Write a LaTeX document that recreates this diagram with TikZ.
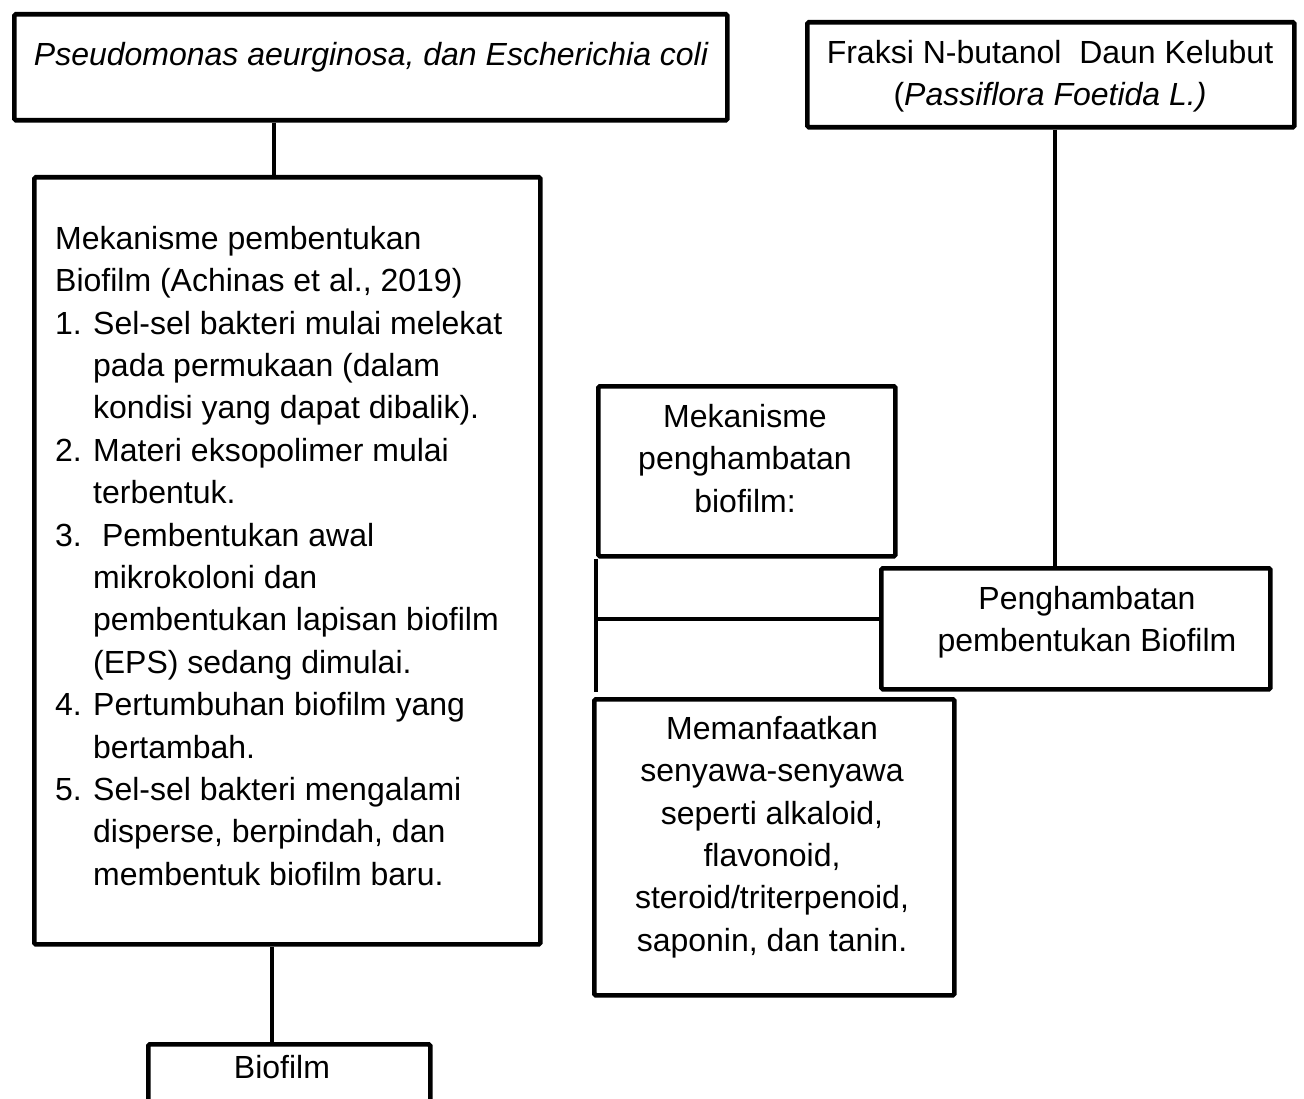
\documentclass[tikz,border=0pt]{standalone}
\usepackage{fontspec}
\setmainfont{Liberation Sans}
\newcommand{\bodyfont}{\fontsize{32}{42.4}\selectfont}
\newcommand{\itemno}[1]{\makebox[38pt][l]{#1}}
\newcommand{\itemgap}{\hspace*{38pt}}

\begin{document}
\begin{tikzpicture}[x=1pt,y=1pt,yscale=-1,xscale=1,
  box/.style={draw, line width=4.6pt, rounded corners=1.5pt, inner sep=0pt, anchor=north west},
  txt/.style={inner sep=0pt, font=\bodyfont, anchor=north, align=center},
  link/.style={line width=4.6pt}]
\useasboundingbox (0,0) rectangle (1304,1099);

%Shape: Rectangles
\node[box, minimum width=713, minimum height=106] (pseudo) at (12,12) {};
\node[box, minimum width=487, minimum height=105] (fraksi) at (805,20) {};
\node[box, minimum width=506, minimum height=767] (mekform) at (32,175) {};
\node[box, minimum width=282, minimum height=90] (biofilm) at (146,1042) {};
\node[box, minimum width=297, minimum height=170] (mekhambat) at (596,384) {};
\node[box, minimum width=389, minimum height=121] (peng) at (879,566) {};
\node[box, minimum width=360, minimum height=296] (memanf) at (592,697) {};

% Text Node
\node[txt] (pseudotxt) at (371,42) {\itshape Pseudomonas aeurginosa, dan Escherichia coli};
% Text Node
\node[txt] (fraksitxt) at (1050,40) {Fraksi N-butanol\ \ Daun Kelubut\\(\textit{Passiflora Foetida L.)}};
% Text Node
\node[txt, align=left, anchor=north west] (mekformtxt) at (55,226) {Mekanisme pembentukan\\
  Biofilm (Achinas et al., 2019)\\
  \itemno{1.}Sel-sel bakteri mulai melekat\\
  \itemgap pada permukaan (dalam\\
  \itemgap kondisi yang dapat dibalik).\\
  \itemno{2.}Materi eksopolimer mulai\\
  \itemgap terbentuk.\\
  \itemno{3.}\ Pembentukan awal\\
  \itemgap mikrokoloni dan\\
  \itemgap pembentukan lapisan biofilm\\
  \itemgap (EPS) sedang dimulai.\\
  \itemno{4.}Pertumbuhan biofilm yang\\
  \itemgap bertambah.\\
  \itemno{5.}Sel-sel bakteri mengalami\\
  \itemgap disperse, berpindah, dan\\
  \itemgap membentuk biofilm baru.};
% Text Node
\node[txt] (mekhambattxt) at (745,404) {Mekanisme\\penghambatan\\biofilm:};
% Text Node
\node[txt] (pengtxt) at (1087,586) {Penghambatan\\pembentukan Biofilm};
% Text Node
\node[txt] (memanftxt) at (772,716) {Memanfaatkan\\senyawa-senyawa\\seperti alkaloid,\\flavonoid,\\steroid/triterpenoid,\\saponin, dan tanin.};
% Text Node
\node[txt] (biofilmtxt) at (282,1055) {Biofilm};

%Straight Lines
\coordinate (col1) at (274,0);
\coordinate (col2) at (272,0);
\coordinate (col3) at (1055,0);
\coordinate (tail) at (596,692);
\coordinate (join) at (596,619);
\draw[link] (pseudo.south -| col1) -- (mekform.north -| col1);
\draw[link] (mekform.south -| col2) -- (biofilm.north -| col2);
\draw[link] (fraksi.south -| col3) -- (peng.north -| col3);
\draw[link] (mekhambat.south west) -- (tail);
\draw[link] (join) -- (join -| peng.west);

\end{tikzpicture}
\end{document}
